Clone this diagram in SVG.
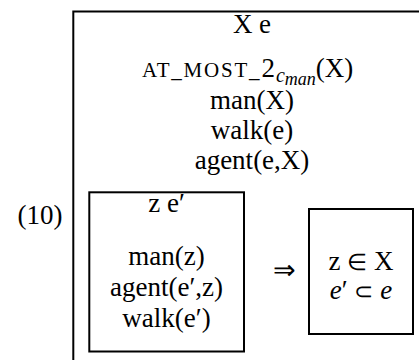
<svg xmlns="http://www.w3.org/2000/svg" width="419" height="360" viewBox="0 0 419 360">
<style>
text{font-family:"Liberation Serif","Times New Roman",serif;font-size:27px;fill:#000}
.c{text-anchor:middle}
.i{font-style:italic}
.sc{font-size:21px;letter-spacing:1.8px}
.sub{font-style:italic}
.sym{font-size:23px}
.box{fill:none;stroke:#000;stroke-width:2}
</style>
<g id="label"><text x="40" y="224" class="c">(10)</text></g>
<g id="outer">
<path class="box" d="M73.3 360 V11.5 H419"/>
<text x="252" y="33" class="c">X e</text>
<text x="142" y="77"><tspan class="sc">AT_MOST_</tspan><tspan>2</tspan><tspan class="sub" font-size="20" dx="1" dy="5">c</tspan><tspan class="sub" font-size="18" dy="3">man</tspan><tspan dy="-8">(X)</tspan></text>
<text x="252" y="109" class="c">man(X)</text>
<text x="252" y="139" class="c">walk(e)</text>
<text x="252" y="169" class="c">agent(e,X)</text>
</g>
<g id="antecedent">
<rect class="box" x="89.3" y="192.3" width="154.7" height="159.2"/>
<text x="166.5" y="212" class="c">z e′</text>
<text x="166.5" y="265" class="c">man(z)</text>
<text x="166.5" y="296" class="c">agent(e′,z)</text>
<text x="166.5" y="327" class="c">walk(e′)</text>
</g>
<g id="connectors"><text x="284.5" y="279" class="c" font-size="28">⇒</text></g>
<g id="consequent">
<rect class="box" x="309" y="209" width="104" height="125"/>
<text x="361" y="270" class="c">z <tspan class="sym">∈</tspan> X</text>
<text x="361" y="299" class="c"><tspan class="i">e</tspan>′ <tspan class="sym">⊂</tspan> <tspan class="i">e</tspan></text>
</g>
</svg>
